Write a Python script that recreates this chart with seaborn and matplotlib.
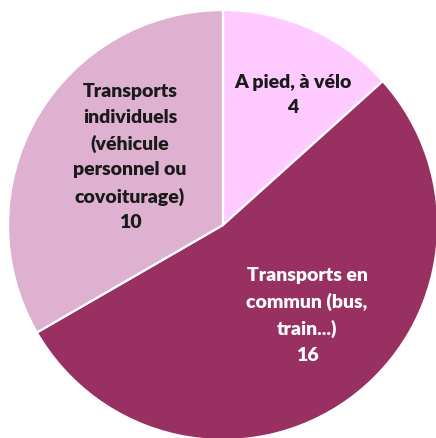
import matplotlib
matplotlib.use("Agg")
import matplotlib.pyplot as plt
import seaborn as sns

categories = ["A pied, à vélo",
              "Transports en\ncommun (bus,\ntrain...)",
              "Transports\nindividuels\n(véhicule\npersonnel ou\ncovoiturage)"]
values = [4, 16, 10]
colors = ["#FFCAFF", "#993062", "#DFB1D1"]
text_colors = ["#1a1a1a", "white", "#1a1a1a"]
label_pos = [(0.326, 0.605), (0.391, -0.42), (-0.433, 0.315)]

sns.set_theme(style="white")
plt.rcParams['font.family'] = ['Lato', 'DejaVu Sans']

fig = plt.figure(figsize=(4.36, 4.38), dpi=100)
ax = fig.add_axes([8/436, -2/438, 430/436, 430/438])
wedges, _ = ax.pie(values, colors=sns.color_palette(colors), startangle=90,
                   counterclock=False,
                   wedgeprops=dict(edgecolor="white", linewidth=1.6))
ax.set_xlim(-1, 1)
ax.set_ylim(-1, 1)
ax.set_aspect("equal")
ax.axis("off")

for cat, val, (x, y), tc in zip(categories, values, label_pos, text_colors):
    ax.text(x, y, f"{cat}\n{val}", ha="center", va="center", color=tc,
            fontsize=14, fontweight="heavy", linespacing=1.6)

fig.savefig("out.png", dpi=100, facecolor="white")
